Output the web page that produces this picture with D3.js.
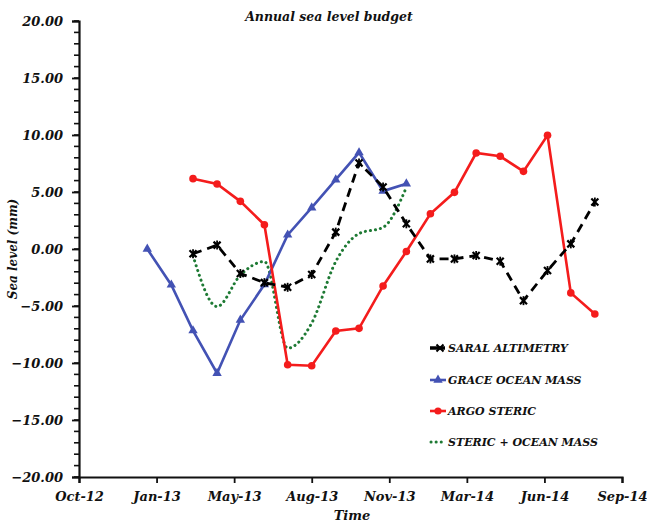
<!DOCTYPE html>
<html>
<head>
<meta charset="utf-8">
<script src="https://cdn.jsdelivr.net/npm/d3@7"></script>
<style>
  html, body { margin: 0; padding: 0; background: #fff; }
  svg { display: block; }
  text { font-family: "DejaVu Serif", serif; font-weight: bold; font-style: italic; fill: #111; }
</style>
</head>
<body>
<script>
// ---------- data ----------
const saralMonths = ["2013-03","2013-04","2013-05","2013-06","2013-07","2013-08","2013-09","2013-10","2013-11","2013-12","2014-01","2014-02","2014-03","2014-04","2014-05","2014-06","2014-07","2014-08"];
const saralValues = [-0.42, 0.34, -2.15, -2.95, -3.36, -2.24, 1.48, 7.55, 5.44, 2.21, -0.87, -0.87, -0.57, -1.07, -4.53, -1.89, 0.45, 4.12];

const graceMonths = ["2013-01","2013-02","2013-03","2013-04","2013-05","2013-06","2013-07","2013-08","2013-09","2013-10","2013-11","2013-12"];
const graceValues = [0.0, -3.15, -7.16, -10.9, -6.23, -3.12, 1.24, 3.62, 6.08, 8.46, 5.08, 5.73];

const argoMonths = ["2013-03","2013-04","2013-05","2013-06","2013-07","2013-08","2013-09","2013-10","2013-11","2013-12","2014-01","2014-02","2014-03","2014-04","2014-05","2014-06","2014-07","2014-08"];
const argoValues = [6.17, 5.70, 4.18, 2.13, -10.15, -10.24, -7.19, -6.96, -3.24, -0.22, 3.09, 4.97, 8.42, 8.13, 6.81, 9.98, -3.85, -5.70];

const sumMonths = ["2013-03","2013-04","2013-05","2013-06","2013-07","2013-08","2013-09","2013-10","2013-11","2013-12"];
const sumValues = [-0.6, -5.05, -2.3, -1.1, -8.7, -6.5, -1.1, 1.35, 1.9, 5.4];

const seriesNames = ["SARAL ALTIMETRY", "GRACE OCEAN MASS", "ARGO STERIC", "STERIC + OCEAN MASS"];
const yTicks = [-20, -15, -10, -5, 0, 5, 10, 15, 20];
const xDomain = ["2012-10-18", "2014-09-18"];
const xTickStepDays = 100;
const title = "Annual sea level budget";
const xTitle = "Time";
const yTitle = "Sea level (mm)";

// ---------- layout ----------
const W = 647, H = 524;
const mLeft = 79, mRight = 622, mTop = 21, mBottom = 477;

const parseDay = d3.timeParse("%Y-%m-%d");
const parseMonth = s => { const [yy, mm] = s.split("-").map(Number); return new Date(yy, mm - 1, 14); };

const x = d3.scaleTime().domain(xDomain.map(parseDay)).range([mLeft, mRight]);
const y = d3.scaleLinear().domain([-20, 20]).range([mBottom, mTop]);

const svg = d3.select("body").append("svg").attr("width", W).attr("height", H);

// title
svg.append("text").attr("x", 329).attr("y", 21).attr("text-anchor", "middle")
  .style("font-size", "12.5px").text(title);

// y axis
const yMinor = d3.range(-20, 20.001, 1);
const yAxis = d3.axisLeft(y).tickValues(yTicks).tickFormat(d3.format(".2f")).tickSize(7).tickPadding(9);
const yg = svg.append("g").attr("transform", `translate(${mLeft},0)`);
yg.selectAll("line.minor").data(yMinor).join("line").attr("class", "minor")
  .attr("x1", -5).attr("x2", 0).attr("y1", d => y(d)).attr("y2", d => y(d))
  .attr("stroke", "#111").attr("stroke-width", 1.6);
yg.call(yAxis);
yg.select(".domain").attr("stroke", "#111").attr("stroke-width", 2.2);
yg.selectAll(".tick line").attr("stroke", "#111").attr("stroke-width", 1.8);
yg.selectAll(".tick text").style("font-size", "13px").attr("fill", "#111")
  .style("font-family", "'DejaVu Serif', serif").style("font-weight", "bold").style("font-style", "italic");

// x axis
const d0 = parseDay(xDomain[0]);
const xTickVals = d3.range(0, 8).map(i => d3.timeDay.offset(d0, i * xTickStepDays));
const xAxis = d3.axisBottom(x).tickValues(xTickVals).tickFormat(d3.timeFormat("%b-%y")).tickSize(6).tickPadding(9);
const xg = svg.append("g").attr("transform", `translate(0,${mBottom})`).call(xAxis);
xg.select(".domain").attr("stroke", "#111").attr("stroke-width", 2.2);
xg.selectAll(".tick line").attr("stroke", "#111").attr("stroke-width", 1.8);
xg.selectAll(".tick text").style("font-size", "13px").attr("fill", "#111")
  .style("font-family", "'DejaVu Serif', serif").style("font-weight", "bold").style("font-style", "italic");

// axis titles
svg.append("text").attr("x", 352).attr("y", 520).attr("text-anchor", "middle")
  .style("font-size", "13px").text(xTitle);
svg.append("text").attr("transform", `translate(17,${(mTop + mBottom) / 2}) rotate(-90)`)
  .attr("text-anchor", "middle").style("font-size", "12px").text(yTitle);

// ---------- series ----------
const mk = (months, vals) => months.map((m, i) => ({ d: parseMonth(m), v: vals[i] }));
const saral = mk(saralMonths, saralValues);
const grace = mk(graceMonths, graceValues);
const argo = mk(argoMonths, argoValues);
const sum = mk(sumMonths, sumValues);

const line = d3.line().x(p => x(p.d)).y(p => y(p.v));
const smooth = d3.line().x(p => x(p.d)).y(p => y(p.v)).curve(d3.curveMonotoneX);

const colors = { saral: "#000", grace: "#4352b4", argo: "#f41c1c", sum: "#1e7a34" };

// green dotted smoothed
svg.append("path").datum(sum).attr("d", smooth).attr("fill", "none")
  .attr("stroke", colors.sum).attr("stroke-width", 3).attr("stroke-linecap", "round")
  .attr("stroke-dasharray", "0.1,5");

// blue
svg.append("path").datum(grace).attr("d", line).attr("fill", "none")
  .attr("stroke", colors.grace).attr("stroke-width", 2.6);
const tri = d3.symbol().type(d3.symbolTriangle).size(38);
svg.selectAll("path.tri").data(grace).join("path").attr("class", "tri")
  .attr("transform", p => `translate(${x(p.d)},${y(p.v)})`).attr("d", tri).attr("fill", colors.grace);

// red
svg.append("path").datum(argo).attr("d", line).attr("fill", "none")
  .attr("stroke", colors.argo).attr("stroke-width", 2.6);
svg.selectAll("circle.argo").data(argo).join("circle").attr("class", "argo")
  .attr("cx", p => x(p.d)).attr("cy", p => y(p.v)).attr("r", 3.8).attr("fill", colors.argo);

// black dashed
svg.append("path").datum(saral).attr("d", line).attr("fill", "none")
  .attr("stroke", colors.saral).attr("stroke-width", 2.8).attr("stroke-dasharray", "9,6");
const star = d3.symbol().type(d3.symbolTimes).size(34);
const gStar = svg.selectAll("g.star").data(saral).join("g").attr("class", "star")
  .attr("transform", p => `translate(${x(p.d)},${y(p.v)})`);
gStar.append("path").attr("d", star).attr("fill", "none").attr("stroke", colors.saral).attr("stroke-width", 2.2);
gStar.append("line").attr("x1", 0).attr("x2", 0).attr("y1", -4.5).attr("y2", 4.5)
  .attr("stroke", colors.saral).attr("stroke-width", 1.8);

// ---------- legend ----------
const legY = [348, 380, 411, 442];
const lg = svg.append("g");
seriesNames.forEach((name, i) => {
  const yy = legY[i];
  if (i === 0) {
    lg.append("line").attr("x1", 430).attr("x2", 445).attr("y1", yy).attr("y2", yy)
      .attr("stroke", colors.saral).attr("stroke-width", 3.5);
    lg.append("path").attr("transform", `translate(440,${yy})`).attr("d", star)
      .attr("fill", "none").attr("stroke", colors.saral).attr("stroke-width", 2);
  } else if (i === 1) {
    lg.append("line").attr("x1", 430).attr("x2", 446).attr("y1", yy).attr("y2", yy)
      .attr("stroke", colors.grace).attr("stroke-width", 2.6);
    lg.append("path").attr("transform", `translate(438,${yy})`).attr("d", tri).attr("fill", colors.grace);
  } else if (i === 2) {
    lg.append("line").attr("x1", 430).attr("x2", 446).attr("y1", yy).attr("y2", yy)
      .attr("stroke", colors.argo).attr("stroke-width", 2.6);
    lg.append("circle").attr("cx", 438).attr("cy", yy).attr("r", 3.6).attr("fill", colors.argo);
  } else {
    lg.append("line").attr("x1", 431).attr("x2", 442).attr("y1", yy).attr("y2", yy)
      .attr("stroke", colors.sum).attr("stroke-width", 3).attr("stroke-linecap", "round")
      .attr("stroke-dasharray", "0.1,5");
  }
  lg.append("text").attr("x", 448).attr("y", yy + 4).style("font-size", "11px").text(name);
});
</script>
</body>
</html>
